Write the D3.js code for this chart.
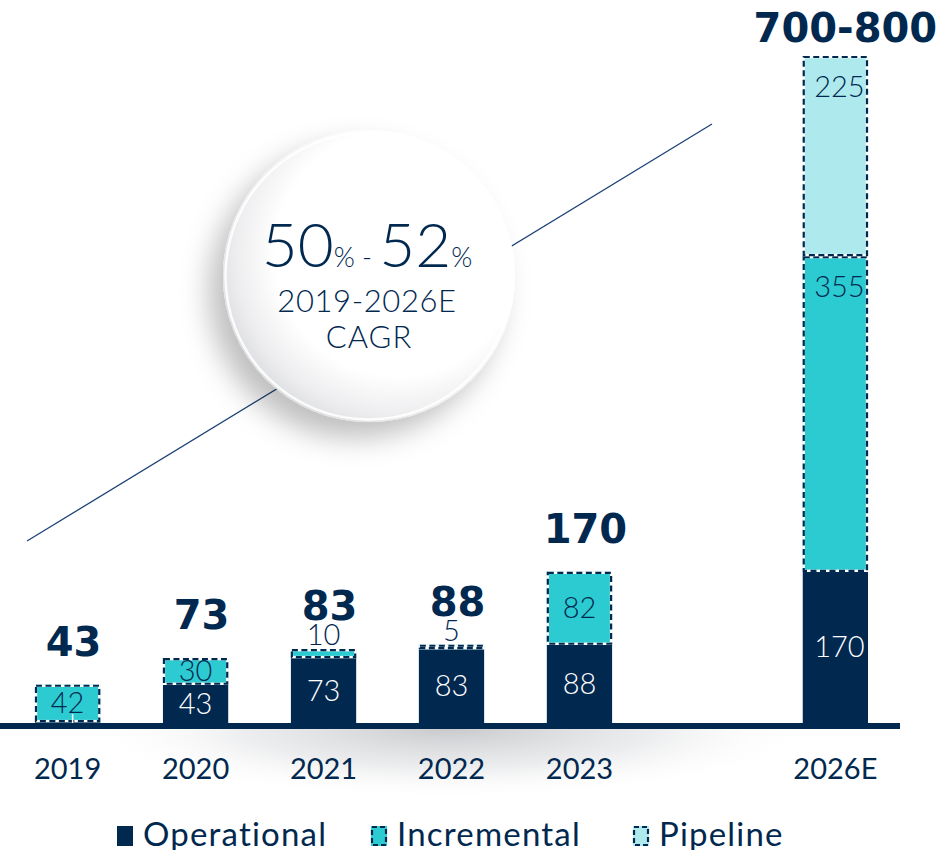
<!DOCTYPE html>
<html>
<head>
<meta charset="utf-8">
<script src="https://cdn.jsdelivr.net/npm/d3@7/dist/d3.min.js"></script>
<style>
  body { margin: 0; background: #fff; }
  svg { display: block; font-family: Lato, "Open Sans", sans-serif; }
</style>
</head>
<body>
<svg id="chart" width="941" height="850"></svg>
<script>
// data
const years = ['2019', '2020', '2021', '2022', '2023', '2026E'];
const slots = ['2019', '2020', '2021', '2022', '2023', 'gap', '2026E'];
const operational = [1, 43, 73, 83, 88, 170];
const incremental = [42, 30, 10, 5, 82, 355];
const pipeline = [0, 0, 0, 0, 0, 225];
const totalLabels = ['43', '73', '83', '88', '170', '700-800'];
const seriesNames = ['Operational', 'Incremental', 'Pipeline'];
const cagrLow = '50';
const cagrHigh = '52';
const cagrPeriod = '2019-2026E';

const navy = '#01284f';
const colors = { Operational: navy, Incremental: '#2ccbd1', Pipeline: '#aeeaed' };

const svg = d3.select('#chart');
const defs = svg.append('defs');

const x = d3.scaleBand()
  .domain(slots)
  .range([3, 900])
  .paddingInner(0.49)
  .paddingOuter(0.25);

const y = d3.scaleLinear()
  .domain([0, 750])
  .range([723, 56]);

const rows = years.map((yr, i) => ({
  year: yr, Operational: operational[i], Incremental: incremental[i], Pipeline: pipeline[i], total: totalLabels[i]
}));
const stacked = d3.stack().keys(seriesNames)(rows);

// floor shadow under the axis
const floorGrad = defs.append('radialGradient').attr('id', 'floor');
floorGrad.append('stop').attr('offset', '0%').attr('stop-color', '#c8c9cc').attr('stop-opacity', 1);
floorGrad.append('stop').attr('offset', '55%').attr('stop-color', '#e4e5e7').attr('stop-opacity', 0.7);
floorGrad.append('stop').attr('offset', '100%').attr('stop-color', '#ffffff').attr('stop-opacity', 0);
defs.append('clipPath').attr('id', 'below')
  .append('rect').attr('x', 0).attr('y', 728).attr('width', 941).attr('height', 122);
svg.append('ellipse')
  .attr('clip-path', 'url(#below)')
  .attr('cx', 450).attr('cy', 728).attr('rx', 370).attr('ry', 72)
  .attr('fill', 'url(#floor)');

// trend line behind the bubble
svg.append('line')
  .attr('x1', 27).attr('y1', 541).attr('x2', 712).attr('y2', 124)
  .attr('stroke', '#1d4277').attr('stroke-width', 1.3);

// CAGR bubble
const shadow = defs.append('filter').attr('id', 'shadow')
  .attr('x', '-40%').attr('y', '-40%').attr('width', '180%').attr('height', '180%');
shadow.append('feDropShadow')
  .attr('dx', -14).attr('dy', 16).attr('stdDeviation', 14)
  .attr('flood-color', '#000').attr('flood-opacity', 0.25);

const bubbleGrad = defs.append('radialGradient').attr('id', 'bubble')
  .attr('cx', '60%').attr('cy', '42%').attr('r', '62%');
bubbleGrad.append('stop').attr('offset', '0%').attr('stop-color', '#ffffff');
bubbleGrad.append('stop').attr('offset', '68%').attr('stop-color', '#ffffff');
bubbleGrad.append('stop').attr('offset', '90%').attr('stop-color', '#ededef');
bubbleGrad.append('stop').attr('offset', '100%').attr('stop-color', '#dfe0e3');

const bubble = svg.append('g').attr('transform', 'translate(369,276)');
bubble.append('circle')
  .attr('r', 146)
  .attr('fill', 'url(#bubble)')
  .attr('filter', 'url(#shadow)');
bubble.append('circle')
  .attr('r', 143.5)
  .attr('fill', 'none')
  .attr('stroke', '#ffffff').attr('stroke-width', 2.5).attr('opacity', 0.85);

const big = bubble.append('text')
  .attr('x', -2).attr('y', -9)
  .attr('text-anchor', 'middle')
  .attr('fill', navy)
  .style('font-weight', 300);
big.append('tspan').attr('font-size', 62).text(cagrLow);
big.append('tspan').attr('font-size', 27).text('% - ');
big.append('tspan').attr('font-size', 62).text(cagrHigh);
big.append('tspan').attr('font-size', 27).text('%');

bubble.append('text')
  .attr('x', -2).attr('y', 36).attr('text-anchor', 'middle')
  .attr('font-size', 31).attr('fill', navy).attr('letter-spacing', 0.6)
  .style('font-weight', 300)
  .text(cagrPeriod);
bubble.append('text')
  .attr('y', 72).attr('text-anchor', 'middle')
  .attr('font-size', 31).attr('fill', navy).attr('letter-spacing', 1)
  .style('font-weight', 300)
  .text('CAGR');

// bars
const layers = svg.append('g').selectAll('g')
  .data(stacked)
  .join('g');

layers.selectAll('rect.fill')
  .data(d => d.map(s => ({ key: d.key, s })))
  .join('rect')
  .attr('class', 'fill')
  .attr('x', d => x(d.s.data.year))
  .attr('y', d => y(d.s[1]))
  .attr('width', x.bandwidth())
  .attr('height', d => y(d.s[0]) - y(d.s[1]))
  .attr('fill', d => colors[d.key]);

// dashed outlines for incremental and pipeline
layers.filter(d => d.key !== 'Operational')
  .selectAll('rect.outline')
  .data(d => d.filter(s => s[1] > s[0]))
  .join('rect')
  .attr('class', 'outline')
  .attr('x', d => x(d.data.year) + 1)
  .attr('y', d => y(d[1]) + 1)
  .attr('width', x.bandwidth() - 2)
  .attr('height', d => Math.max(0, y(d[0]) - y(d[1]) - 2))
  .attr('fill', 'none')
  .attr('stroke', '#ffffff')
  .attr('stroke-width', 2.4)
  .clone()
  .attr('stroke', navy)
  .attr('stroke-width', 2.2)
  .attr('stroke-dasharray', '6,3.5');

// segment value labels
const segs = [];
stacked.forEach(layer => {
  layer.forEach(s => {
    const v = s[1] - s[0];
    const h = y(s[0]) - y(s[1]);
    if (v <= 0 || h < 3 && layer.key === 'Operational') return;
    let ty;
    if (h < 15) ty = y(s[1]) - 4;
    else if (h > 200) ty = y(s[1]) + 41;
    else ty = (y(s[0]) + y(s[1])) / 2 + 10;
    segs.push({ key: layer.key, year: s.data.year, v, ty });
  });
});

svg.append('g').selectAll('text')
  .data(segs)
  .join('text')
  .attr('x', d => x(d.year) + x.bandwidth() / 2 + (d.year === '2026E' ? 4 : 0))
  .attr('y', d => d.ty)
  .attr('text-anchor', 'middle')
  .attr('font-size', 29)
  .style('font-weight', 300)
  .attr('fill', d => d.key === 'Operational' ? '#ffffff' : navy)
  .text(d => d.v);

// leader for the tiny 2019 operational slice
rows.forEach(r => {
  if (y(0) - y(r.Operational) < 3) {
    svg.append('line')
      .attr('x1', x(r.year) + x.bandwidth() / 2 + 5)
      .attr('x2', x(r.year) + x.bandwidth() / 2 + 5)
      .attr('y1', y(r.Operational) - 8)
      .attr('y2', y(0) + 6)
      .attr('stroke', '#ffffff').attr('stroke-width', 1.5);
  }
});

// totals
svg.append('g').selectAll('text')
  .data(rows)
  .join('text')
  .attr('x', (d, i) => x(d.year) + x.bandwidth() / 2 + (i === rows.length - 1 ? 10 : 6))
  .attr('y', (d, i) => y(d.Operational + d.Incremental + d.Pipeline) - (i === rows.length - 1 ? 14 : 29))
  .attr('text-anchor', 'middle')
  .style('font-family', '"DejaVu Sans", sans-serif')
  .style('font-weight', 'bold')
  .attr('font-size', 40)
  .attr('fill', navy)
  .text(d => d.total);

// baseline
svg.append('line')
  .attr('x1', 0).attr('x2', 900)
  .attr('y1', 726).attr('y2', 726)
  .attr('stroke', navy).attr('stroke-width', 6);

// year labels
const xAxis = svg.append('g')
  .attr('transform', 'translate(0,723)')
  .call(d3.axisBottom(x).tickValues(years).tickSize(0));
xAxis.select('.domain').remove();
xAxis.selectAll('text')
  .attr('y', 56).attr('dy', 0)
  .style('font-family', 'Lato, sans-serif')
  .attr('font-size', 29)
  .attr('fill', navy);

// legend
const legendX = [117, 371, 633];
const legend = svg.append('g').selectAll('g')
  .data(seriesNames)
  .join('g')
  .attr('transform', (d, i) => `translate(${legendX[i]},826)`);
legend.append('rect')
  .attr('width', 16).attr('height', 20)
  .attr('fill', d => colors[d]);
legend.filter(d => d !== 'Operational').append('rect')
  .attr('x', 1).attr('y', 1).attr('width', 14).attr('height', 18)
  .attr('fill', 'none')
  .attr('stroke', navy).attr('stroke-width', 2.2)
  .attr('stroke-dasharray', '5,3');
legend.append('text')
  .attr('x', 26).attr('y', 20)
  .attr('font-size', 33)
  .attr('letter-spacing', 1.2)
  .attr('fill', navy)
  .text(d => d);
</script>
</body>
</html>
